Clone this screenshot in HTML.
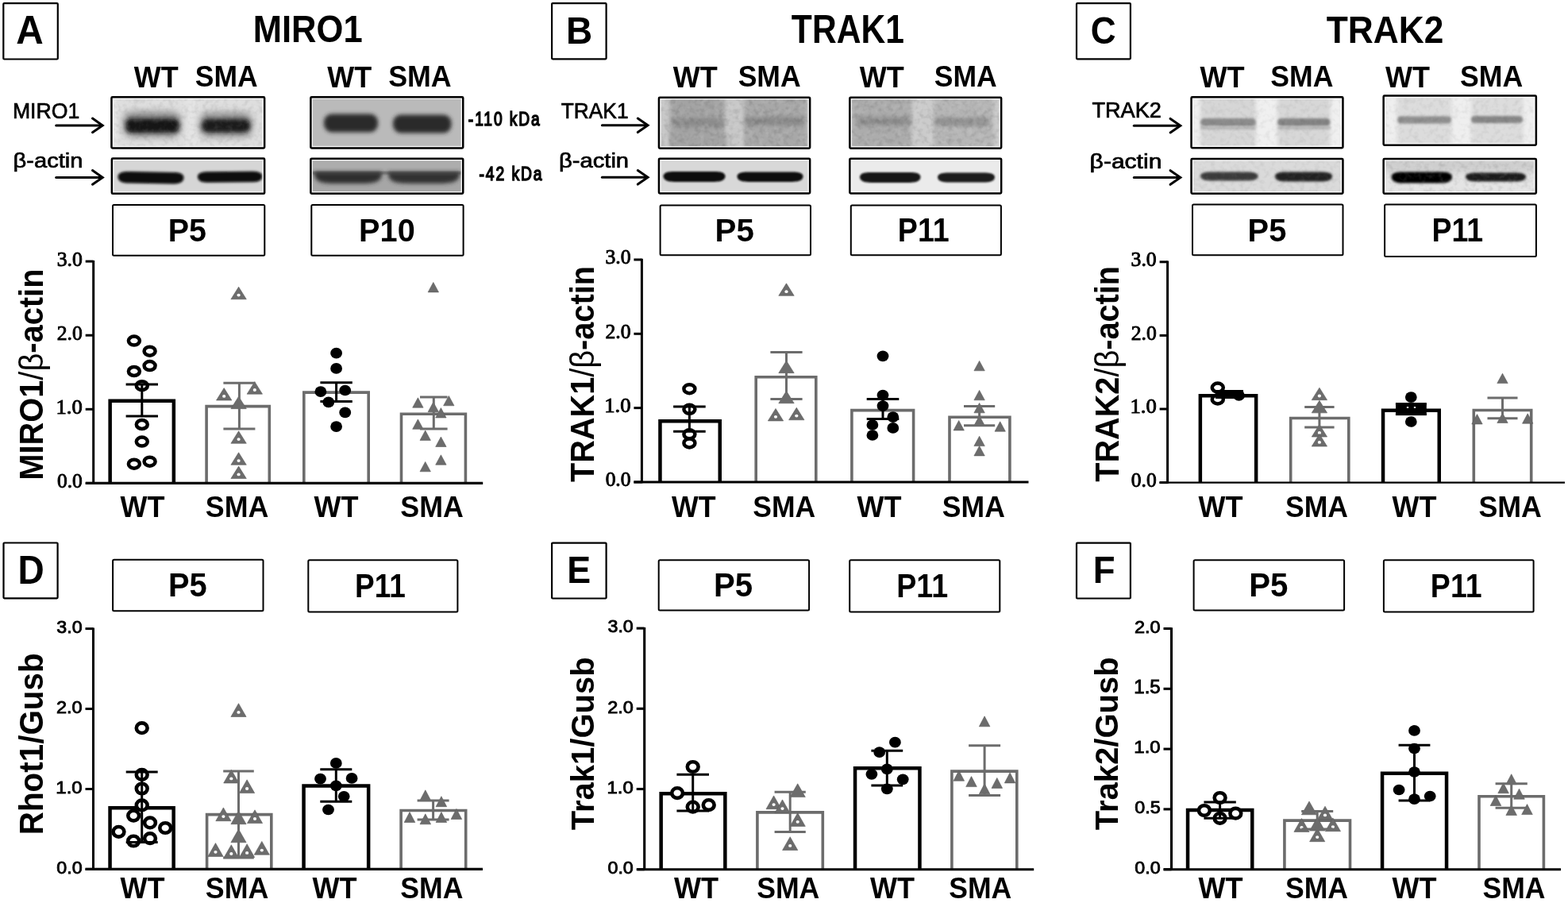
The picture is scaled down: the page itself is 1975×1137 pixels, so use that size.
<!DOCTYPE html>
<html><head><meta charset="utf-8"><title>Figure</title>
<style>html,body{margin:0;padding:0;background:#fff;overflow:hidden;}svg{display:block;}</style>
</head><body>
<svg width="1975" height="1137" viewBox="0 0 1975 1137">
<rect x="0" y="0" width="1975" height="1137" fill="#fff"/>
<rect x="4.30" y="4.10" width="68.50" height="70.40" rx="1.0" fill="none" stroke="#000" stroke-width="2.20"/>
<text transform="translate(20.31 55.20) scale(0.9629 1)" style="font-family:'Liberation Sans',Arial,sans-serif;font-weight:bold;font-size:49.60px" fill="#000">A</text>
<rect x="695.10" y="4.10" width="68.50" height="70.20" rx="1.0" fill="none" stroke="#000" stroke-width="2.20"/>
<text transform="translate(713.00 55.20) scale(0.9364 1)" style="font-family:'Liberation Sans',Arial,sans-serif;font-weight:bold;font-size:49.02px" fill="#000">B</text>
<rect x="1356.00" y="4.10" width="67.90" height="70.20" rx="1.0" fill="none" stroke="#000" stroke-width="2.20"/>
<text transform="translate(1373.64 55.12) scale(0.9101 1)" style="font-family:'Liberation Sans',Arial,sans-serif;font-weight:bold;font-size:48.48px" fill="#000">C</text>
<rect x="4.50" y="683.50" width="68.10" height="69.80" rx="1.0" fill="none" stroke="#000" stroke-width="2.20"/>
<text transform="translate(22.39 734.60) scale(0.9393 1)" style="font-family:'Liberation Sans',Arial,sans-serif;font-weight:bold;font-size:49.02px" fill="#000">D</text>
<rect x="695.10" y="683.60" width="68.50" height="69.90" rx="1.0" fill="none" stroke="#000" stroke-width="2.20"/>
<text transform="translate(714.37 734.40) scale(0.9198 1)" style="font-family:'Liberation Sans',Arial,sans-serif;font-weight:bold;font-size:48.73px" fill="#000">E</text>
<rect x="1356.00" y="683.60" width="67.90" height="69.90" rx="1.0" fill="none" stroke="#000" stroke-width="2.20"/>
<text transform="translate(1376.83 734.40) scale(0.9341 1)" style="font-family:'Liberation Sans',Arial,sans-serif;font-weight:bold;font-size:48.73px" fill="#000">F</text>
<text transform="translate(318.76 53.12) scale(0.9116 1)" style="font-family:'Liberation Sans',Arial,sans-serif;font-weight:bold;font-size:47.77px" fill="#000">MIRO1</text>
<text transform="translate(996.87 53.60) scale(0.8667 1)" style="font-family:'Liberation Sans',Arial,sans-serif;font-weight:bold;font-size:49.16px" fill="#000">TRAK1</text>
<text transform="translate(1670.76 53.60) scale(0.9146 1)" style="font-family:'Liberation Sans',Arial,sans-serif;font-weight:bold;font-size:48.46px" fill="#000">TRAK2</text>
<text transform="translate(168.70 109.50) scale(0.9590 1)" style="font-family:'Liberation Sans',Arial,sans-serif;font-weight:bold;font-size:37.53px" fill="#000">WT</text>
<text transform="translate(245.74 109.43) scale(0.9507 1)" style="font-family:'Liberation Sans',Arial,sans-serif;font-weight:bold;font-size:37.31px" fill="#000">SMA</text>
<text transform="translate(412.30 109.50) scale(0.9590 1)" style="font-family:'Liberation Sans',Arial,sans-serif;font-weight:bold;font-size:37.53px" fill="#000">WT</text>
<text transform="translate(489.13 109.43) scale(0.9593 1)" style="font-family:'Liberation Sans',Arial,sans-serif;font-weight:bold;font-size:37.31px" fill="#000">SMA</text>
<text transform="translate(847.70 109.50) scale(0.9607 1)" style="font-family:'Liberation Sans',Arial,sans-serif;font-weight:bold;font-size:37.53px" fill="#000">WT</text>
<text transform="translate(929.63 109.43) scale(0.9531 1)" style="font-family:'Liberation Sans',Arial,sans-serif;font-weight:bold;font-size:37.31px" fill="#000">SMA</text>
<text transform="translate(1082.70 109.50) scale(0.9607 1)" style="font-family:'Liberation Sans',Arial,sans-serif;font-weight:bold;font-size:37.53px" fill="#000">WT</text>
<text transform="translate(1176.73 109.43) scale(0.9531 1)" style="font-family:'Liberation Sans',Arial,sans-serif;font-weight:bold;font-size:37.31px" fill="#000">SMA</text>
<text transform="translate(1511.40 109.50) scale(0.9641 1)" style="font-family:'Liberation Sans',Arial,sans-serif;font-weight:bold;font-size:37.53px" fill="#000">WT</text>
<text transform="translate(1600.33 109.43) scale(0.9544 1)" style="font-family:'Liberation Sans',Arial,sans-serif;font-weight:bold;font-size:37.31px" fill="#000">SMA</text>
<text transform="translate(1745.00 109.50) scale(0.9590 1)" style="font-family:'Liberation Sans',Arial,sans-serif;font-weight:bold;font-size:37.53px" fill="#000">WT</text>
<text transform="translate(1839.03 109.43) scale(0.9556 1)" style="font-family:'Liberation Sans',Arial,sans-serif;font-weight:bold;font-size:37.31px" fill="#000">SMA</text>
<rect x="142.00" y="257.90" width="191.30" height="63.80" rx="1.5" fill="none" stroke="#000" stroke-width="2.00"/>
<text transform="translate(211.74 303.59) scale(0.9659 1)" style="font-family:'Liberation Sans',Arial,sans-serif;font-weight:bold;font-size:40.86px" fill="#000">P5</text>
<rect x="392.30" y="257.90" width="191.30" height="63.80" rx="1.5" fill="none" stroke="#000" stroke-width="2.00"/>
<text transform="translate(452.12 303.79) scale(0.9719 1)" style="font-family:'Liberation Sans',Arial,sans-serif;font-weight:bold;font-size:40.85px" fill="#000">P10</text>
<rect x="831.60" y="258.40" width="189.40" height="62.90" rx="1.5" fill="none" stroke="#000" stroke-width="2.00"/>
<text transform="translate(900.58 303.59) scale(0.9786 1)" style="font-family:'Liberation Sans',Arial,sans-serif;font-weight:bold;font-size:41.15px" fill="#000">P5</text>
<rect x="1071.80" y="258.40" width="189.10" height="62.90" rx="1.5" fill="none" stroke="#000" stroke-width="2.00"/>
<text transform="translate(1130.86 304.00) scale(0.9023 1)" style="font-family:'Liberation Sans',Arial,sans-serif;font-weight:bold;font-size:41.75px" fill="#000">P11</text>
<rect x="1502.00" y="257.60" width="189.50" height="63.70" rx="1.5" fill="none" stroke="#000" stroke-width="2.00"/>
<text transform="translate(1571.61 303.59) scale(0.9678 1)" style="font-family:'Liberation Sans',Arial,sans-serif;font-weight:bold;font-size:41.15px" fill="#000">P5</text>
<rect x="1744.10" y="257.60" width="190.80" height="65.40" rx="1.5" fill="none" stroke="#000" stroke-width="2.00"/>
<text transform="translate(1803.47 304.00) scale(0.8993 1)" style="font-family:'Liberation Sans',Arial,sans-serif;font-weight:bold;font-size:41.75px" fill="#000">P11</text>
<rect x="142.10" y="704.80" width="189.40" height="64.50" rx="1.5" fill="none" stroke="#000" stroke-width="2.00"/>
<text transform="translate(211.91 751.08) scale(0.9534 1)" style="font-family:'Liberation Sans',Arial,sans-serif;font-weight:bold;font-size:41.86px" fill="#000">P5</text>
<rect x="388.30" y="705.30" width="188.10" height="65.10" rx="1.5" fill="none" stroke="#000" stroke-width="2.00"/>
<text transform="translate(447.10 751.50) scale(0.8723 1)" style="font-family:'Liberation Sans',Arial,sans-serif;font-weight:bold;font-size:42.47px" fill="#000">P11</text>
<rect x="829.70" y="705.30" width="189.40" height="63.10" rx="1.5" fill="none" stroke="#000" stroke-width="2.00"/>
<text transform="translate(898.99 751.08) scale(0.9597 1)" style="font-family:'Liberation Sans',Arial,sans-serif;font-weight:bold;font-size:41.86px" fill="#000">P5</text>
<rect x="1070.20" y="705.30" width="189.10" height="65.10" rx="1.5" fill="none" stroke="#000" stroke-width="2.00"/>
<text transform="translate(1129.26 751.50) scale(0.8868 1)" style="font-family:'Liberation Sans',Arial,sans-serif;font-weight:bold;font-size:42.47px" fill="#000">P11</text>
<rect x="1503.60" y="705.30" width="189.50" height="63.10" rx="1.5" fill="none" stroke="#000" stroke-width="2.00"/>
<text transform="translate(1573.18 751.08) scale(0.9618 1)" style="font-family:'Liberation Sans',Arial,sans-serif;font-weight:bold;font-size:41.86px" fill="#000">P5</text>
<rect x="1742.90" y="705.30" width="188.70" height="65.10" rx="1.5" fill="none" stroke="#000" stroke-width="2.00"/>
<text transform="translate(1801.87 751.50) scale(0.8839 1)" style="font-family:'Liberation Sans',Arial,sans-serif;font-weight:bold;font-size:42.47px" fill="#000">P11</text>
<text transform="translate(15.90 149.21) scale(0.9336 1)" style="font-family:'Liberation Sans',Arial,sans-serif;font-weight:normal;font-size:28.55px" fill="#000" stroke="#000" stroke-width="0.7">MIRO1</text>
<text transform="translate(16.56 211.13) scale(1.1027 1)" style="font-family:'Liberation Sans',Arial,sans-serif;font-weight:normal;font-size:26.38px" fill="#000" stroke="#000" stroke-width="0.7">β-actin</text>
<line x1="70.70" y1="157.90" x2="127.90" y2="157.90" stroke="#000" stroke-width="3.00" stroke-linecap="round"/>
<polyline points="116.5,149.1 129.2,157.9 116.5,166.7" fill="none" stroke="#000" stroke-width="3.0" stroke-linecap="round" stroke-linejoin="miter"/>
<line x1="70.70" y1="223.40" x2="127.90" y2="223.40" stroke="#000" stroke-width="3.00" stroke-linecap="round"/>
<polyline points="116.5,214.6 129.2,223.4 116.5,232.2" fill="none" stroke="#000" stroke-width="3.0" stroke-linecap="round" stroke-linejoin="miter"/>
<text transform="translate(706.81 149.40) scale(0.9465 1)" style="font-family:'Liberation Sans',Arial,sans-serif;font-weight:normal;font-size:27.78px" fill="#000" stroke="#000" stroke-width="0.7">TRAK1</text>
<text transform="translate(703.96 211.49) scale(1.1203 1)" style="font-family:'Liberation Sans',Arial,sans-serif;font-weight:normal;font-size:26.06px" fill="#000" stroke="#000" stroke-width="0.7">β-actin</text>
<line x1="758.40" y1="157.80" x2="814.70" y2="157.80" stroke="#000" stroke-width="3.00" stroke-linecap="round"/>
<polyline points="803.3,149.0 816.0,157.8 803.3,166.6" fill="none" stroke="#000" stroke-width="3.0" stroke-linecap="round" stroke-linejoin="miter"/>
<line x1="758.40" y1="223.30" x2="814.70" y2="223.30" stroke="#000" stroke-width="3.00" stroke-linecap="round"/>
<polyline points="803.3,214.5 816.0,223.3 803.3,232.1" fill="none" stroke="#000" stroke-width="3.0" stroke-linecap="round" stroke-linejoin="miter"/>
<text transform="translate(1375.39 147.90) scale(0.9809 1)" style="font-family:'Liberation Sans',Arial,sans-serif;font-weight:normal;font-size:27.67px" fill="#000" stroke="#000" stroke-width="0.7">TRAK2</text>
<text transform="translate(1372.60 212.02) scale(1.1583 1)" style="font-family:'Liberation Sans',Arial,sans-serif;font-weight:normal;font-size:25.95px" fill="#000" stroke="#000" stroke-width="0.7">β-actin</text>
<line x1="1428.30" y1="158.20" x2="1485.50" y2="158.20" stroke="#000" stroke-width="3.00" stroke-linecap="round"/>
<polyline points="1474.1,149.4 1486.8,158.2 1474.1,167.0" fill="none" stroke="#000" stroke-width="3.0" stroke-linecap="round" stroke-linejoin="miter"/>
<line x1="1428.30" y1="223.50" x2="1485.50" y2="223.50" stroke="#000" stroke-width="3.00" stroke-linecap="round"/>
<polyline points="1474.1,214.7 1486.8,223.5 1474.1,232.3" fill="none" stroke="#000" stroke-width="3.0" stroke-linecap="round" stroke-linejoin="miter"/>
<text transform="translate(589.84 157.77) scale(0.8308 1)" style="font-family:'Liberation Sans',Arial,sans-serif;font-weight:normal;font-size:23.13px;letter-spacing:2.313px" fill="#000" stroke="#000" stroke-width="1.5">-110 kDa</text>
<text transform="translate(603.43 226.67) scale(0.8295 1)" style="font-family:'Liberation Sans',Arial,sans-serif;font-weight:normal;font-size:23.27px;letter-spacing:2.327px" fill="#000" stroke="#000" stroke-width="1.5">-42 kDa</text>
<path d="M138.65 608.40 V504.75 H218.85 V608.40" fill="none" stroke="#000" stroke-width="4.50" stroke-linejoin="miter"/>
<path d="M260.10 608.40 V511.60 H339.30 V608.40" fill="none" stroke="#6c6c6c" stroke-width="3.60" stroke-linejoin="miter"/>
<path d="M382.80 608.40 V494.10 H464.20 V608.40" fill="none" stroke="#6c6c6c" stroke-width="3.60" stroke-linejoin="miter"/>
<path d="M505.50 608.40 V521.20 H586.40 V608.40" fill="none" stroke="#6c6c6c" stroke-width="3.60" stroke-linejoin="miter"/>
<ellipse cx="168.90" cy="429.10" rx="7.00" ry="5.50" fill="#fff" stroke="#000" stroke-width="4.50"/>
<ellipse cx="188.60" cy="442.20" rx="7.00" ry="5.50" fill="#fff" stroke="#000" stroke-width="4.50"/>
<ellipse cx="188.60" cy="460.60" rx="7.00" ry="5.50" fill="#fff" stroke="#000" stroke-width="4.50"/>
<ellipse cx="168.90" cy="467.50" rx="7.00" ry="5.50" fill="#fff" stroke="#000" stroke-width="4.50"/>
<ellipse cx="178.80" cy="485.70" rx="7.00" ry="5.50" fill="#fff" stroke="#000" stroke-width="4.50"/>
<ellipse cx="178.80" cy="534.50" rx="7.00" ry="5.50" fill="#fff" stroke="#000" stroke-width="4.50"/>
<ellipse cx="178.80" cy="556.10" rx="7.00" ry="5.50" fill="#fff" stroke="#000" stroke-width="4.50"/>
<ellipse cx="168.90" cy="584.20" rx="7.00" ry="5.50" fill="#fff" stroke="#000" stroke-width="4.50"/>
<ellipse cx="188.60" cy="581.20" rx="7.00" ry="5.50" fill="#fff" stroke="#000" stroke-width="4.50"/>
<polygon points="290.90,376.75 310.30,376.75 300.60,361.25" fill="#6c6c6c" stroke="#5a5a5a" stroke-width="0.6" stroke-linejoin="round"/>
<ellipse cx="300.60" cy="371.58" rx="2.1" ry="1.9" fill="#fff"/>
<polygon points="272.50,504.05 291.90,504.05 282.20,488.55" fill="#6c6c6c" stroke="#5a5a5a" stroke-width="0.6" stroke-linejoin="round"/>
<ellipse cx="282.20" cy="498.88" rx="2.1" ry="1.9" fill="#fff"/>
<polygon points="311.10,496.15 330.50,496.15 320.80,480.65" fill="#6c6c6c" stroke="#5a5a5a" stroke-width="0.6" stroke-linejoin="round"/>
<ellipse cx="320.80" cy="490.98" rx="2.1" ry="1.9" fill="#fff"/>
<polygon points="290.90,558.25 310.30,558.25 300.60,542.75" fill="#6c6c6c" stroke="#5a5a5a" stroke-width="0.6" stroke-linejoin="round"/>
<ellipse cx="300.60" cy="553.08" rx="2.1" ry="1.9" fill="#fff"/>
<polygon points="290.90,585.25 310.30,585.25 300.60,569.75" fill="#6c6c6c" stroke="#5a5a5a" stroke-width="0.6" stroke-linejoin="round"/>
<ellipse cx="300.60" cy="580.08" rx="2.1" ry="1.9" fill="#fff"/>
<polygon points="290.90,602.55 310.30,602.55 300.60,587.05" fill="#6c6c6c" stroke="#5a5a5a" stroke-width="0.6" stroke-linejoin="round"/>
<ellipse cx="300.60" cy="597.38" rx="2.1" ry="1.9" fill="#fff"/>
<polygon points="290.90,514.65 310.30,514.65 300.60,499.15" fill="#6c6c6c" stroke="#5a5a5a" stroke-width="0.6" stroke-linejoin="round"/>
<ellipse cx="423.60" cy="444.70" rx="7.4" ry="6.85" fill="#000"/>
<ellipse cx="423.60" cy="463.90" rx="7.4" ry="6.85" fill="#000"/>
<ellipse cx="403.90" cy="493.20" rx="7.4" ry="6.85" fill="#000"/>
<ellipse cx="434.70" cy="491.50" rx="7.4" ry="6.85" fill="#000"/>
<ellipse cx="413.80" cy="506.30" rx="7.4" ry="6.85" fill="#000"/>
<ellipse cx="434.70" cy="519.40" rx="7.4" ry="6.85" fill="#000"/>
<ellipse cx="423.60" cy="537.10" rx="7.4" ry="6.85" fill="#000"/>
<polygon points="539.10,367.90 552.50,367.90 545.80,355.50" fill="#6c6c6c" stroke="#5a5a5a" stroke-width="0.6" stroke-linejoin="round"/>
<polygon points="519.70,513.20 533.10,513.20 526.40,500.80" fill="#6c6c6c" stroke="#5a5a5a" stroke-width="0.6" stroke-linejoin="round"/>
<polygon points="558.60,510.80 572.00,510.80 565.30,498.40" fill="#6c6c6c" stroke="#5a5a5a" stroke-width="0.6" stroke-linejoin="round"/>
<polygon points="539.10,518.70 552.50,518.70 545.80,506.30" fill="#6c6c6c" stroke="#5a5a5a" stroke-width="0.6" stroke-linejoin="round"/>
<polygon points="548.70,526.00 562.10,526.00 555.40,513.60" fill="#6c6c6c" stroke="#5a5a5a" stroke-width="0.6" stroke-linejoin="round"/>
<polygon points="519.70,540.30 533.10,540.30 526.40,527.90" fill="#6c6c6c" stroke="#5a5a5a" stroke-width="0.6" stroke-linejoin="round"/>
<polygon points="529.00,554.40 542.40,554.40 535.70,542.00" fill="#6c6c6c" stroke="#5a5a5a" stroke-width="0.6" stroke-linejoin="round"/>
<polygon points="548.70,562.50 562.10,562.50 555.40,550.10" fill="#6c6c6c" stroke="#5a5a5a" stroke-width="0.6" stroke-linejoin="round"/>
<polygon points="548.70,585.20 562.10,585.20 555.40,572.80" fill="#6c6c6c" stroke="#5a5a5a" stroke-width="0.6" stroke-linejoin="round"/>
<polygon points="529.00,593.80 542.40,593.80 535.70,581.40" fill="#6c6c6c" stroke="#5a5a5a" stroke-width="0.6" stroke-linejoin="round"/>
<line x1="178.80" y1="484.00" x2="178.80" y2="524.10" stroke="#000" stroke-width="3.00" stroke-linecap="butt"/>
<line x1="158.60" y1="484.00" x2="199.00" y2="484.00" stroke="#000" stroke-width="3.00" stroke-linecap="butt"/>
<line x1="158.60" y1="524.10" x2="199.00" y2="524.10" stroke="#000" stroke-width="3.00" stroke-linecap="butt"/>
<line x1="301.40" y1="482.30" x2="301.40" y2="539.90" stroke="#6c6c6c" stroke-width="3.00" stroke-linecap="butt"/>
<line x1="281.40" y1="482.30" x2="321.40" y2="482.30" stroke="#6c6c6c" stroke-width="3.00" stroke-linecap="butt"/>
<line x1="281.40" y1="539.90" x2="321.40" y2="539.90" stroke="#6c6c6c" stroke-width="3.00" stroke-linecap="butt"/>
<line x1="423.60" y1="481.70" x2="423.60" y2="505.60" stroke="#000" stroke-width="3.00" stroke-linecap="butt"/>
<line x1="403.40" y1="481.70" x2="443.80" y2="481.70" stroke="#000" stroke-width="3.00" stroke-linecap="butt"/>
<line x1="403.40" y1="505.60" x2="443.80" y2="505.60" stroke="#000" stroke-width="3.00" stroke-linecap="butt"/>
<line x1="546.30" y1="500.10" x2="546.30" y2="540.00" stroke="#6c6c6c" stroke-width="3.00" stroke-linecap="butt"/>
<line x1="529.00" y1="500.10" x2="563.60" y2="500.10" stroke="#6c6c6c" stroke-width="3.00" stroke-linecap="butt"/>
<line x1="529.00" y1="540.00" x2="563.60" y2="540.00" stroke="#6c6c6c" stroke-width="3.00" stroke-linecap="butt"/>
<line x1="117.70" y1="327.90" x2="117.70" y2="609.60" stroke="#000" stroke-width="3.00" stroke-linecap="butt"/>
<line x1="107.80" y1="608.40" x2="608.20" y2="608.40" stroke="#000" stroke-width="3.20" stroke-linecap="butt"/>
<line x1="107.70" y1="608.40" x2="117.70" y2="608.40" stroke="#000" stroke-width="3.00" stroke-linecap="butt"/>
<text transform="translate(71.94 613.88) scale(1.0441 1)" style="font-family:'Liberation Serif','Times New Roman',serif;font-weight:normal;font-size:24.41px" fill="#000" stroke="#000" stroke-width="0.9">0.0</text>
<line x1="107.70" y1="515.30" x2="117.70" y2="515.30" stroke="#000" stroke-width="3.00" stroke-linecap="butt"/>
<text transform="translate(70.57 520.78) scale(1.0905 1)" style="font-family:'Liberation Serif','Times New Roman',serif;font-weight:normal;font-size:24.41px" fill="#000" stroke="#000" stroke-width="0.9">1.0</text>
<line x1="107.70" y1="422.20" x2="117.70" y2="422.20" stroke="#000" stroke-width="3.00" stroke-linecap="butt"/>
<text transform="translate(71.81 427.68) scale(1.0486 1)" style="font-family:'Liberation Serif','Times New Roman',serif;font-weight:normal;font-size:24.41px" fill="#000" stroke="#000" stroke-width="0.9">2.0</text>
<line x1="107.70" y1="329.10" x2="117.70" y2="329.10" stroke="#000" stroke-width="3.00" stroke-linecap="butt"/>
<text transform="translate(71.68 334.58) scale(1.0531 1)" style="font-family:'Liberation Serif','Times New Roman',serif;font-weight:normal;font-size:24.41px" fill="#000" stroke="#000" stroke-width="0.9">3.0</text>
<text transform="translate(54.00 604.69) rotate(-90) scale(0.9446 1)" style="font-family:'Liberation Sans',Arial,sans-serif;font-weight:bold;font-size:42.15px" fill="#000">MIRO1<tspan style="font-family:'Liberation Sans',Arial,sans-serif;font-weight:normal">/β</tspan>-actin</text>
<text transform="translate(151.60 650.60) scale(0.9720 1)" style="font-family:'Liberation Sans',Arial,sans-serif;font-weight:bold;font-size:37.09px" fill="#000">WT</text>
<text transform="translate(258.83 650.53) scale(0.9704 1)" style="font-family:'Liberation Sans',Arial,sans-serif;font-weight:bold;font-size:36.89px" fill="#000">SMA</text>
<text transform="translate(395.60 650.60) scale(0.9720 1)" style="font-family:'Liberation Sans',Arial,sans-serif;font-weight:bold;font-size:37.09px" fill="#000">WT</text>
<text transform="translate(504.33 650.53) scale(0.9704 1)" style="font-family:'Liberation Sans',Arial,sans-serif;font-weight:bold;font-size:36.89px" fill="#000">SMA</text>
<path d="M831.45 607.00 V530.15 H906.75 V607.00" fill="none" stroke="#000" stroke-width="4.50" stroke-linejoin="miter"/>
<path d="M952.20 607.00 V474.80 H1027.80 V607.00" fill="none" stroke="#6c6c6c" stroke-width="3.60" stroke-linejoin="miter"/>
<path d="M1072.90 607.00 V516.60 H1150.60 V607.00" fill="none" stroke="#6c6c6c" stroke-width="3.60" stroke-linejoin="miter"/>
<path d="M1196.00 607.00 V525.20 H1271.90 V607.00" fill="none" stroke="#6c6c6c" stroke-width="3.60" stroke-linejoin="miter"/>
<ellipse cx="868.40" cy="489.70" rx="7.00" ry="5.50" fill="#fff" stroke="#000" stroke-width="4.50"/>
<ellipse cx="868.40" cy="515.30" rx="7.00" ry="5.50" fill="#fff" stroke="#000" stroke-width="4.50"/>
<ellipse cx="868.40" cy="546.80" rx="7.00" ry="5.50" fill="#fff" stroke="#000" stroke-width="4.50"/>
<ellipse cx="868.40" cy="557.90" rx="7.00" ry="5.50" fill="#fff" stroke="#000" stroke-width="4.50"/>
<polygon points="980.80,372.35 1000.20,372.35 990.50,356.85" fill="#6c6c6c" stroke="#5a5a5a" stroke-width="0.6" stroke-linejoin="round"/>
<ellipse cx="990.50" cy="367.18" rx="2.1" ry="1.9" fill="#fff"/>
<polygon points="967.30,529.95 986.70,529.95 977.00,514.45" fill="#6c6c6c" stroke="#5a5a5a" stroke-width="0.6" stroke-linejoin="round"/>
<ellipse cx="977.00" cy="524.78" rx="2.1" ry="1.9" fill="#fff"/>
<polygon points="993.60,528.75 1013.00,528.75 1003.30,513.25" fill="#6c6c6c" stroke="#5a5a5a" stroke-width="0.6" stroke-linejoin="round"/>
<ellipse cx="1003.30" cy="523.58" rx="2.1" ry="1.9" fill="#fff"/>
<polygon points="980.80,469.65 1000.20,469.65 990.50,454.15" fill="#6c6c6c" stroke="#5a5a5a" stroke-width="0.6" stroke-linejoin="round"/>
<polygon points="980.80,507.75 1000.20,507.75 990.50,492.25" fill="#6c6c6c" stroke="#5a5a5a" stroke-width="0.6" stroke-linejoin="round"/>
<ellipse cx="1112.00" cy="448.30" rx="7.4" ry="6.85" fill="#000"/>
<ellipse cx="1112.00" cy="497.60" rx="7.4" ry="6.85" fill="#000"/>
<ellipse cx="1112.00" cy="511.10" rx="7.4" ry="6.85" fill="#000"/>
<ellipse cx="1124.80" cy="525.10" rx="7.4" ry="6.85" fill="#000"/>
<ellipse cx="1098.90" cy="535.00" rx="7.4" ry="6.85" fill="#000"/>
<ellipse cx="1124.80" cy="538.90" rx="7.4" ry="6.85" fill="#000"/>
<ellipse cx="1098.90" cy="548.00" rx="7.4" ry="6.85" fill="#000"/>
<polygon points="1226.90,466.80 1240.30,466.80 1233.60,454.40" fill="#6c6c6c" stroke="#5a5a5a" stroke-width="0.6" stroke-linejoin="round"/>
<polygon points="1226.90,503.80 1240.30,503.80 1233.60,491.40" fill="#6c6c6c" stroke="#5a5a5a" stroke-width="0.6" stroke-linejoin="round"/>
<polygon points="1226.90,519.80 1240.30,519.80 1233.60,507.40" fill="#6c6c6c" stroke="#5a5a5a" stroke-width="0.6" stroke-linejoin="round"/>
<polygon points="1226.90,535.80 1240.30,535.80 1233.60,523.40" fill="#6c6c6c" stroke="#5a5a5a" stroke-width="0.6" stroke-linejoin="round"/>
<polygon points="1201.00,541.90 1214.40,541.90 1207.70,529.50" fill="#6c6c6c" stroke="#5a5a5a" stroke-width="0.6" stroke-linejoin="round"/>
<polygon points="1253.00,543.20 1266.40,543.20 1259.70,530.80" fill="#6c6c6c" stroke="#5a5a5a" stroke-width="0.6" stroke-linejoin="round"/>
<polygon points="1226.90,561.60 1240.30,561.60 1233.60,549.20" fill="#6c6c6c" stroke="#5a5a5a" stroke-width="0.6" stroke-linejoin="round"/>
<polygon points="1226.90,573.90 1240.30,573.90 1233.60,561.50" fill="#6c6c6c" stroke="#5a5a5a" stroke-width="0.6" stroke-linejoin="round"/>
<line x1="868.40" y1="511.90" x2="868.40" y2="543.20" stroke="#000" stroke-width="3.00" stroke-linecap="butt"/>
<line x1="848.10" y1="511.90" x2="888.70" y2="511.90" stroke="#000" stroke-width="3.00" stroke-linecap="butt"/>
<line x1="848.10" y1="543.20" x2="888.70" y2="543.20" stroke="#000" stroke-width="3.00" stroke-linecap="butt"/>
<line x1="990.50" y1="443.40" x2="990.50" y2="502.50" stroke="#6c6c6c" stroke-width="3.00" stroke-linecap="butt"/>
<line x1="970.40" y1="443.40" x2="1010.60" y2="443.40" stroke="#6c6c6c" stroke-width="3.00" stroke-linecap="butt"/>
<line x1="970.40" y1="502.50" x2="1010.60" y2="502.50" stroke="#6c6c6c" stroke-width="3.00" stroke-linecap="butt"/>
<line x1="1112.00" y1="502.50" x2="1112.00" y2="527.60" stroke="#000" stroke-width="3.00" stroke-linecap="butt"/>
<line x1="1091.70" y1="502.50" x2="1132.30" y2="502.50" stroke="#000" stroke-width="3.00" stroke-linecap="butt"/>
<line x1="1091.70" y1="527.60" x2="1132.30" y2="527.60" stroke="#000" stroke-width="3.00" stroke-linecap="butt"/>
<line x1="1233.60" y1="511.60" x2="1233.60" y2="535.70" stroke="#6c6c6c" stroke-width="3.00" stroke-linecap="butt"/>
<line x1="1214.00" y1="511.60" x2="1253.20" y2="511.60" stroke="#6c6c6c" stroke-width="3.00" stroke-linecap="butt"/>
<line x1="1214.00" y1="535.70" x2="1253.20" y2="535.70" stroke="#6c6c6c" stroke-width="3.00" stroke-linecap="butt"/>
<line x1="808.40" y1="325.75" x2="808.40" y2="608.20" stroke="#000" stroke-width="3.00" stroke-linecap="butt"/>
<line x1="798.40" y1="607.00" x2="1295.50" y2="607.00" stroke="#000" stroke-width="3.10" stroke-linecap="butt"/>
<line x1="798.40" y1="607.00" x2="808.40" y2="607.00" stroke="#000" stroke-width="3.00" stroke-linecap="butt"/>
<text transform="translate(762.64 612.48) scale(1.0441 1)" style="font-family:'Liberation Serif','Times New Roman',serif;font-weight:normal;font-size:24.41px" fill="#000" stroke="#000" stroke-width="0.9">0.0</text>
<line x1="798.40" y1="513.65" x2="808.40" y2="513.65" stroke="#000" stroke-width="3.00" stroke-linecap="butt"/>
<text transform="translate(761.27 519.13) scale(1.0905 1)" style="font-family:'Liberation Serif','Times New Roman',serif;font-weight:normal;font-size:24.41px" fill="#000" stroke="#000" stroke-width="0.9">1.0</text>
<line x1="798.40" y1="420.30" x2="808.40" y2="420.30" stroke="#000" stroke-width="3.00" stroke-linecap="butt"/>
<text transform="translate(762.51 425.78) scale(1.0486 1)" style="font-family:'Liberation Serif','Times New Roman',serif;font-weight:normal;font-size:24.41px" fill="#000" stroke="#000" stroke-width="0.9">2.0</text>
<line x1="798.40" y1="326.95" x2="808.40" y2="326.95" stroke="#000" stroke-width="3.00" stroke-linecap="butt"/>
<text transform="translate(762.38 332.43) scale(1.0531 1)" style="font-family:'Liberation Serif','Times New Roman',serif;font-weight:normal;font-size:24.41px" fill="#000" stroke="#000" stroke-width="0.9">3.0</text>
<text transform="translate(748.00 607.10) rotate(-90) scale(0.9485 1)" style="font-family:'Liberation Sans',Arial,sans-serif;font-weight:bold;font-size:41.86px" fill="#000">TRAK1<tspan style="font-family:'Liberation Sans',Arial,sans-serif;font-weight:normal">/β</tspan>-actin</text>
<text transform="translate(846.10 650.60) scale(0.9633 1)" style="font-family:'Liberation Sans',Arial,sans-serif;font-weight:bold;font-size:37.09px" fill="#000">WT</text>
<text transform="translate(948.33 650.53) scale(0.9628 1)" style="font-family:'Liberation Sans',Arial,sans-serif;font-weight:bold;font-size:36.89px" fill="#000">SMA</text>
<text transform="translate(1079.60 650.60) scale(0.9720 1)" style="font-family:'Liberation Sans',Arial,sans-serif;font-weight:bold;font-size:37.09px" fill="#000">WT</text>
<text transform="translate(1186.83 650.53) scale(0.9641 1)" style="font-family:'Liberation Sans',Arial,sans-serif;font-weight:bold;font-size:36.89px" fill="#000">SMA</text>
<path d="M1511.85 607.60 V498.15 H1582.15 V607.60" fill="none" stroke="#000" stroke-width="4.50" stroke-linejoin="miter"/>
<path d="M1625.70 607.60 V526.50 H1698.80 V607.60" fill="none" stroke="#6c6c6c" stroke-width="3.60" stroke-linejoin="miter"/>
<path d="M1742.05 607.60 V516.65 H1812.75 V607.60" fill="none" stroke="#000" stroke-width="4.50" stroke-linejoin="miter"/>
<path d="M1856.30 607.60 V516.50 H1928.70 V607.60" fill="none" stroke="#6c6c6c" stroke-width="3.60" stroke-linejoin="miter"/>
<ellipse cx="1533.80" cy="488.10" rx="7.00" ry="5.50" fill="#fff" stroke="#000" stroke-width="4.50"/>
<ellipse cx="1533.80" cy="502.90" rx="7.00" ry="5.50" fill="#fff" stroke="#000" stroke-width="4.50"/>
<ellipse cx="1560.50" cy="498.00" rx="7.4" ry="6.85" fill="#000"/>
<polygon points="1652.20,503.65 1671.60,503.65 1661.90,488.15" fill="#6c6c6c" stroke="#5a5a5a" stroke-width="0.6" stroke-linejoin="round"/>
<ellipse cx="1661.90" cy="498.48" rx="2.1" ry="1.9" fill="#fff"/>
<polygon points="1652.20,550.05 1671.60,550.05 1661.90,534.55" fill="#6c6c6c" stroke="#5a5a5a" stroke-width="0.6" stroke-linejoin="round"/>
<ellipse cx="1661.90" cy="544.88" rx="2.1" ry="1.9" fill="#fff"/>
<polygon points="1652.20,562.05 1671.60,562.05 1661.90,546.55" fill="#6c6c6c" stroke="#5a5a5a" stroke-width="0.6" stroke-linejoin="round"/>
<ellipse cx="1661.90" cy="556.88" rx="2.1" ry="1.9" fill="#fff"/>
<polygon points="1652.20,519.85 1671.60,519.85 1661.90,504.35" fill="#6c6c6c" stroke="#5a5a5a" stroke-width="0.6" stroke-linejoin="round"/>
<ellipse cx="1777.30" cy="500.10" rx="7.4" ry="6.85" fill="#000"/>
<ellipse cx="1777.30" cy="531.00" rx="7.4" ry="6.85" fill="#000"/>
<ellipse cx="1767.00" cy="515.00" rx="7.4" ry="6.85" fill="#000"/>
<ellipse cx="1787.00" cy="515.00" rx="7.4" ry="6.85" fill="#000"/>
<polygon points="1885.80,482.60 1899.20,482.60 1892.50,470.20" fill="#6c6c6c" stroke="#5a5a5a" stroke-width="0.6" stroke-linejoin="round"/>
<polygon points="1853.80,534.00 1867.20,534.00 1860.50,521.60" fill="#6c6c6c" stroke="#5a5a5a" stroke-width="0.6" stroke-linejoin="round"/>
<polygon points="1917.50,533.20 1930.90,533.20 1924.20,520.80" fill="#6c6c6c" stroke="#5a5a5a" stroke-width="0.6" stroke-linejoin="round"/>
<polygon points="1885.80,532.50 1899.20,532.50 1892.50,520.10" fill="#6c6c6c" stroke="#5a5a5a" stroke-width="0.6" stroke-linejoin="round"/>
<line x1="1548.50" y1="492.50" x2="1548.50" y2="500.50" stroke="#000" stroke-width="3.00" stroke-linecap="butt"/>
<line x1="1531.00" y1="492.50" x2="1566.00" y2="492.50" stroke="#000" stroke-width="3.00" stroke-linecap="butt"/>
<line x1="1531.00" y1="500.50" x2="1566.00" y2="500.50" stroke="#000" stroke-width="3.00" stroke-linecap="butt"/>
<line x1="1661.90" y1="512.40" x2="1661.90" y2="538.10" stroke="#6c6c6c" stroke-width="3.00" stroke-linecap="butt"/>
<line x1="1643.20" y1="512.40" x2="1680.60" y2="512.40" stroke="#6c6c6c" stroke-width="3.00" stroke-linecap="butt"/>
<line x1="1643.20" y1="538.10" x2="1680.60" y2="538.10" stroke="#6c6c6c" stroke-width="3.00" stroke-linecap="butt"/>
<line x1="1777.30" y1="508.80" x2="1777.30" y2="521.60" stroke="#000" stroke-width="3.00" stroke-linecap="butt"/>
<line x1="1757.90" y1="508.80" x2="1796.70" y2="508.80" stroke="#000" stroke-width="3.00" stroke-linecap="butt"/>
<line x1="1757.90" y1="521.60" x2="1796.70" y2="521.60" stroke="#000" stroke-width="3.00" stroke-linecap="butt"/>
<line x1="1892.50" y1="500.90" x2="1892.50" y2="526.70" stroke="#6c6c6c" stroke-width="3.00" stroke-linecap="butt"/>
<line x1="1873.50" y1="500.90" x2="1911.50" y2="500.90" stroke="#6c6c6c" stroke-width="3.00" stroke-linecap="butt"/>
<line x1="1873.50" y1="526.70" x2="1911.50" y2="526.70" stroke="#6c6c6c" stroke-width="3.00" stroke-linecap="butt"/>
<rect x="1531" y="491" width="35" height="11" fill="#000"/>
<rect x="1758" y="507.3" width="38.8" height="15.8" fill="#000"/>
<ellipse cx="1773" cy="513" rx="1.3" ry="1.1" fill="#fff"/>
<ellipse cx="1782" cy="513" rx="1.3" ry="1.1" fill="#fff"/>
<line x1="1470.60" y1="328.60" x2="1470.60" y2="608.80" stroke="#000" stroke-width="3.00" stroke-linecap="butt"/>
<line x1="1460.40" y1="607.60" x2="1971.00" y2="607.60" stroke="#000" stroke-width="2.20" stroke-linecap="butt"/>
<line x1="1460.60" y1="607.60" x2="1470.60" y2="607.60" stroke="#000" stroke-width="3.00" stroke-linecap="butt"/>
<text transform="translate(1424.84 613.08) scale(1.0441 1)" style="font-family:'Liberation Serif','Times New Roman',serif;font-weight:normal;font-size:24.41px" fill="#000" stroke="#000" stroke-width="0.9">0.0</text>
<line x1="1460.60" y1="515.00" x2="1470.60" y2="515.00" stroke="#000" stroke-width="3.00" stroke-linecap="butt"/>
<text transform="translate(1423.47 520.48) scale(1.0905 1)" style="font-family:'Liberation Serif','Times New Roman',serif;font-weight:normal;font-size:24.41px" fill="#000" stroke="#000" stroke-width="0.9">1.0</text>
<line x1="1460.60" y1="422.40" x2="1470.60" y2="422.40" stroke="#000" stroke-width="3.00" stroke-linecap="butt"/>
<text transform="translate(1424.71 427.88) scale(1.0486 1)" style="font-family:'Liberation Serif','Times New Roman',serif;font-weight:normal;font-size:24.41px" fill="#000" stroke="#000" stroke-width="0.9">2.0</text>
<line x1="1460.60" y1="329.80" x2="1470.60" y2="329.80" stroke="#000" stroke-width="3.00" stroke-linecap="butt"/>
<text transform="translate(1424.58 335.28) scale(1.0531 1)" style="font-family:'Liberation Serif','Times New Roman',serif;font-weight:normal;font-size:24.41px" fill="#000" stroke="#000" stroke-width="0.9">3.0</text>
<text transform="translate(1408.50 606.80) rotate(-90) scale(0.9508 1)" style="font-family:'Liberation Sans',Arial,sans-serif;font-weight:bold;font-size:41.72px" fill="#000">TRAK2<tspan style="font-family:'Liberation Sans',Arial,sans-serif;font-weight:normal">/β</tspan>-actin</text>
<text transform="translate(1509.60 650.60) scale(0.9720 1)" style="font-family:'Liberation Sans',Arial,sans-serif;font-weight:bold;font-size:37.09px" fill="#000">WT</text>
<text transform="translate(1618.93 650.53) scale(0.9641 1)" style="font-family:'Liberation Sans',Arial,sans-serif;font-weight:bold;font-size:36.89px" fill="#000">SMA</text>
<text transform="translate(1753.60 650.60) scale(0.9720 1)" style="font-family:'Liberation Sans',Arial,sans-serif;font-weight:bold;font-size:37.09px" fill="#000">WT</text>
<text transform="translate(1862.43 650.53) scale(0.9704 1)" style="font-family:'Liberation Sans',Arial,sans-serif;font-weight:bold;font-size:36.89px" fill="#000">SMA</text>
<path d="M138.55 1094.40 V1017.25 H218.65 V1094.40" fill="none" stroke="#000" stroke-width="4.50" stroke-linejoin="miter"/>
<path d="M260.60 1094.40 V1025.60 H341.80 V1094.40" fill="none" stroke="#6c6c6c" stroke-width="3.60" stroke-linejoin="miter"/>
<path d="M382.55 1094.40 V989.55 H464.15 V1094.40" fill="none" stroke="#000" stroke-width="4.50" stroke-linejoin="miter"/>
<path d="M505.10 1094.40 V1020.50 H586.70 V1094.40" fill="none" stroke="#6c6c6c" stroke-width="3.60" stroke-linejoin="miter"/>
<ellipse cx="178.70" cy="916.70" rx="6.90" ry="6.30" fill="#fff" stroke="#000" stroke-width="4.60"/>
<ellipse cx="178.70" cy="975.40" rx="6.90" ry="6.30" fill="#fff" stroke="#000" stroke-width="4.60"/>
<ellipse cx="178.70" cy="993.00" rx="6.90" ry="6.30" fill="#fff" stroke="#000" stroke-width="4.60"/>
<ellipse cx="178.70" cy="1013.90" rx="6.90" ry="6.30" fill="#fff" stroke="#000" stroke-width="4.60"/>
<ellipse cx="168.20" cy="1027.10" rx="6.90" ry="6.30" fill="#fff" stroke="#000" stroke-width="4.60"/>
<ellipse cx="189.00" cy="1035.90" rx="6.90" ry="6.30" fill="#fff" stroke="#000" stroke-width="4.60"/>
<ellipse cx="149.50" cy="1047.30" rx="6.90" ry="6.30" fill="#fff" stroke="#000" stroke-width="4.60"/>
<ellipse cx="208.20" cy="1042.50" rx="6.90" ry="6.30" fill="#fff" stroke="#000" stroke-width="4.60"/>
<ellipse cx="168.20" cy="1059.00" rx="6.90" ry="6.30" fill="#fff" stroke="#000" stroke-width="4.60"/>
<ellipse cx="189.00" cy="1055.70" rx="6.90" ry="6.30" fill="#fff" stroke="#000" stroke-width="4.60"/>
<polygon points="290.90,902.50 310.10,902.50 300.50,885.70" fill="#6c6c6c" stroke="#5a5a5a" stroke-width="0.6" stroke-linejoin="round"/>
<ellipse cx="300.50" cy="896.90" rx="2.1" ry="1.9" fill="#fff"/>
<polygon points="281.70,986.00 300.90,986.00 291.30,969.20" fill="#6c6c6c" stroke="#5a5a5a" stroke-width="0.6" stroke-linejoin="round"/>
<ellipse cx="291.30" cy="980.40" rx="2.1" ry="1.9" fill="#fff"/>
<polygon points="301.50,998.60 320.70,998.60 311.10,981.80" fill="#6c6c6c" stroke="#5a5a5a" stroke-width="0.6" stroke-linejoin="round"/>
<ellipse cx="311.10" cy="993.00" rx="2.1" ry="1.9" fill="#fff"/>
<polygon points="271.80,1033.70 291.00,1033.70 281.40,1016.90" fill="#6c6c6c" stroke="#5a5a5a" stroke-width="0.6" stroke-linejoin="round"/>
<ellipse cx="281.40" cy="1028.10" rx="2.1" ry="1.9" fill="#fff"/>
<polygon points="311.40,1036.60 330.60,1036.60 321.00,1019.80" fill="#6c6c6c" stroke="#5a5a5a" stroke-width="0.6" stroke-linejoin="round"/>
<ellipse cx="321.00" cy="1031.00" rx="2.1" ry="1.9" fill="#fff"/>
<polygon points="261.90,1078.40 281.10,1078.40 271.50,1061.60" fill="#6c6c6c" stroke="#5a5a5a" stroke-width="0.6" stroke-linejoin="round"/>
<ellipse cx="271.50" cy="1072.80" rx="2.1" ry="1.9" fill="#fff"/>
<polygon points="281.70,1080.60 300.90,1080.60 291.30,1063.80" fill="#6c6c6c" stroke="#5a5a5a" stroke-width="0.6" stroke-linejoin="round"/>
<ellipse cx="291.30" cy="1075.00" rx="2.1" ry="1.9" fill="#fff"/>
<polygon points="301.50,1079.50 320.70,1079.50 311.10,1062.70" fill="#6c6c6c" stroke="#5a5a5a" stroke-width="0.6" stroke-linejoin="round"/>
<ellipse cx="311.10" cy="1073.90" rx="2.1" ry="1.9" fill="#fff"/>
<polygon points="320.20,1076.20 339.40,1076.20 329.80,1059.40" fill="#6c6c6c" stroke="#5a5a5a" stroke-width="0.6" stroke-linejoin="round"/>
<ellipse cx="329.80" cy="1070.60" rx="2.1" ry="1.9" fill="#fff"/>
<polygon points="290.90,1037.70 310.10,1037.70 300.50,1020.90" fill="#6c6c6c" stroke="#5a5a5a" stroke-width="0.6" stroke-linejoin="round"/>
<polygon points="290.90,1060.80 310.10,1060.80 300.50,1044.00" fill="#6c6c6c" stroke="#5a5a5a" stroke-width="0.6" stroke-linejoin="round"/>
<ellipse cx="423.30" cy="960.90" rx="7.4" ry="6.85" fill="#000"/>
<ellipse cx="403.50" cy="980.70" rx="7.4" ry="6.85" fill="#000"/>
<ellipse cx="443.10" cy="979.90" rx="7.4" ry="6.85" fill="#000"/>
<ellipse cx="423.30" cy="989.40" rx="7.4" ry="6.85" fill="#000"/>
<ellipse cx="433.20" cy="1002.80" rx="7.4" ry="6.85" fill="#000"/>
<ellipse cx="413.50" cy="1019.50" rx="7.4" ry="6.85" fill="#000"/>
<polygon points="529.00,1007.80 542.60,1007.80 535.80,994.80" fill="#6c6c6c" stroke="#5a5a5a" stroke-width="0.6" stroke-linejoin="round"/>
<polygon points="549.10,1015.70 562.70,1015.70 555.90,1002.70" fill="#6c6c6c" stroke="#5a5a5a" stroke-width="0.6" stroke-linejoin="round"/>
<polygon points="509.20,1035.50 522.80,1035.50 516.00,1022.50" fill="#6c6c6c" stroke="#5a5a5a" stroke-width="0.6" stroke-linejoin="round"/>
<polygon points="529.00,1037.80 542.60,1037.80 535.80,1024.80" fill="#6c6c6c" stroke="#5a5a5a" stroke-width="0.6" stroke-linejoin="round"/>
<polygon points="549.10,1035.50 562.70,1035.50 555.90,1022.50" fill="#6c6c6c" stroke="#5a5a5a" stroke-width="0.6" stroke-linejoin="round"/>
<polygon points="568.10,1031.50 581.70,1031.50 574.90,1018.50" fill="#6c6c6c" stroke="#5a5a5a" stroke-width="0.6" stroke-linejoin="round"/>
<line x1="178.70" y1="972.10" x2="178.70" y2="1060.50" stroke="#000" stroke-width="3.00" stroke-linecap="butt"/>
<line x1="158.70" y1="972.10" x2="198.70" y2="972.10" stroke="#000" stroke-width="3.00" stroke-linecap="butt"/>
<line x1="158.70" y1="1060.50" x2="198.70" y2="1060.50" stroke="#000" stroke-width="3.00" stroke-linecap="butt"/>
<line x1="300.50" y1="971.00" x2="300.50" y2="1079.90" stroke="#6c6c6c" stroke-width="3.00" stroke-linecap="butt"/>
<line x1="281.20" y1="971.00" x2="319.80" y2="971.00" stroke="#6c6c6c" stroke-width="3.00" stroke-linecap="butt"/>
<line x1="281.20" y1="1079.90" x2="319.80" y2="1079.90" stroke="#6c6c6c" stroke-width="3.00" stroke-linecap="butt"/>
<line x1="423.30" y1="968.80" x2="423.30" y2="1009.20" stroke="#000" stroke-width="3.00" stroke-linecap="butt"/>
<line x1="403.30" y1="968.80" x2="443.30" y2="968.80" stroke="#000" stroke-width="3.00" stroke-linecap="butt"/>
<line x1="403.30" y1="1009.20" x2="443.30" y2="1009.20" stroke="#000" stroke-width="3.00" stroke-linecap="butt"/>
<line x1="545.60" y1="1008.10" x2="545.60" y2="1032.10" stroke="#6c6c6c" stroke-width="3.00" stroke-linecap="butt"/>
<line x1="525.60" y1="1008.10" x2="565.60" y2="1008.10" stroke="#6c6c6c" stroke-width="3.00" stroke-linecap="butt"/>
<line x1="525.60" y1="1032.10" x2="565.60" y2="1032.10" stroke="#6c6c6c" stroke-width="3.00" stroke-linecap="butt"/>
<line x1="117.50" y1="790.41" x2="117.50" y2="1095.60" stroke="#000" stroke-width="3.00" stroke-linecap="butt"/>
<line x1="107.60" y1="1094.40" x2="608.00" y2="1094.40" stroke="#000" stroke-width="3.30" stroke-linecap="butt"/>
<line x1="107.50" y1="1094.40" x2="117.50" y2="1094.40" stroke="#000" stroke-width="3.00" stroke-linecap="butt"/>
<text transform="translate(71.22 1099.72) scale(1.0245 1)" style="font-family:'Liberation Sans',Arial,sans-serif;font-weight:normal;font-size:22.76px" fill="#000" stroke="#000" stroke-width="0.9">0.0</text>
<line x1="107.50" y1="993.47" x2="117.50" y2="993.47" stroke="#000" stroke-width="3.00" stroke-linecap="butt"/>
<text transform="translate(70.35 998.79) scale(1.0526 1)" style="font-family:'Liberation Sans',Arial,sans-serif;font-weight:normal;font-size:22.76px" fill="#000" stroke="#000" stroke-width="0.9">1.0</text>
<line x1="107.50" y1="892.54" x2="117.50" y2="892.54" stroke="#000" stroke-width="3.00" stroke-linecap="butt"/>
<text transform="translate(70.98 897.86) scale(1.0324 1)" style="font-family:'Liberation Sans',Arial,sans-serif;font-weight:normal;font-size:22.76px" fill="#000" stroke="#000" stroke-width="0.9">2.0</text>
<line x1="107.50" y1="791.61" x2="117.50" y2="791.61" stroke="#000" stroke-width="3.00" stroke-linecap="butt"/>
<text transform="translate(71.28 796.93) scale(1.0226 1)" style="font-family:'Liberation Sans',Arial,sans-serif;font-weight:normal;font-size:22.76px" fill="#000" stroke="#000" stroke-width="0.9">3.0</text>
<text transform="translate(53.80 1051.23) rotate(-90) scale(0.9718 1)" style="font-family:'Liberation Sans',Arial,sans-serif;font-weight:bold;font-size:41.57px" fill="#000">Rhot1/Gusb</text>
<text transform="translate(151.60 1131.40) scale(0.9875 1)" style="font-family:'Liberation Sans',Arial,sans-serif;font-weight:bold;font-size:36.51px" fill="#000">WT</text>
<text transform="translate(258.83 1131.34) scale(0.9855 1)" style="font-family:'Liberation Sans',Arial,sans-serif;font-weight:bold;font-size:36.33px" fill="#000">SMA</text>
<text transform="translate(393.60 1131.40) scale(0.9875 1)" style="font-family:'Liberation Sans',Arial,sans-serif;font-weight:bold;font-size:36.51px" fill="#000">WT</text>
<text transform="translate(504.23 1131.34) scale(0.9816 1)" style="font-family:'Liberation Sans',Arial,sans-serif;font-weight:bold;font-size:36.33px" fill="#000">SMA</text>
<path d="M832.65 1094.70 V999.15 H913.35 V1094.70" fill="none" stroke="#000" stroke-width="4.50" stroke-linejoin="miter"/>
<path d="M953.90 1094.70 V1022.90 H1036.30 V1094.70" fill="none" stroke="#6c6c6c" stroke-width="3.60" stroke-linejoin="miter"/>
<path d="M1077.05 1094.70 V967.25 H1158.45 V1094.70" fill="none" stroke="#000" stroke-width="4.50" stroke-linejoin="miter"/>
<path d="M1198.90 1094.70 V971.10 H1280.80 V1094.70" fill="none" stroke="#6c6c6c" stroke-width="3.60" stroke-linejoin="miter"/>
<ellipse cx="872.70" cy="965.50" rx="6.90" ry="6.30" fill="#fff" stroke="#000" stroke-width="4.60"/>
<ellipse cx="853.10" cy="998.60" rx="6.90" ry="6.30" fill="#fff" stroke="#000" stroke-width="4.60"/>
<ellipse cx="872.70" cy="1016.10" rx="6.90" ry="6.30" fill="#fff" stroke="#000" stroke-width="4.60"/>
<ellipse cx="892.70" cy="1013.60" rx="6.90" ry="6.30" fill="#fff" stroke="#000" stroke-width="4.60"/>
<polygon points="965.00,1018.70 984.20,1018.70 974.60,1001.90" fill="#6c6c6c" stroke="#5a5a5a" stroke-width="0.6" stroke-linejoin="round"/>
<ellipse cx="974.60" cy="1013.10" rx="2.1" ry="1.9" fill="#fff"/>
<polygon points="975.90,1023.70 995.10,1023.70 985.50,1006.90" fill="#6c6c6c" stroke="#5a5a5a" stroke-width="0.6" stroke-linejoin="round"/>
<ellipse cx="985.50" cy="1018.10" rx="2.1" ry="1.9" fill="#fff"/>
<polygon points="995.10,1040.40 1014.30,1040.40 1004.70,1023.60" fill="#6c6c6c" stroke="#5a5a5a" stroke-width="0.6" stroke-linejoin="round"/>
<ellipse cx="1004.70" cy="1034.80" rx="2.1" ry="1.9" fill="#fff"/>
<polygon points="985.60,1070.50 1004.80,1070.50 995.20,1053.70" fill="#6c6c6c" stroke="#5a5a5a" stroke-width="0.6" stroke-linejoin="round"/>
<ellipse cx="995.20" cy="1064.90" rx="2.1" ry="1.9" fill="#fff"/>
<polygon points="995.10,1003.60 1014.30,1003.60 1004.70,986.80" fill="#6c6c6c" stroke="#5a5a5a" stroke-width="0.6" stroke-linejoin="round"/>
<ellipse cx="1127.40" cy="934.70" rx="7.4" ry="6.85" fill="#000"/>
<ellipse cx="1107.70" cy="947.10" rx="7.4" ry="6.85" fill="#000"/>
<ellipse cx="1117.30" cy="968.40" rx="7.4" ry="6.85" fill="#000"/>
<ellipse cx="1097.90" cy="974.80" rx="7.4" ry="6.85" fill="#000"/>
<ellipse cx="1137.20" cy="981.30" rx="7.4" ry="6.85" fill="#000"/>
<ellipse cx="1117.30" cy="993.30" rx="7.4" ry="6.85" fill="#000"/>
<polygon points="1233.30,914.80 1246.90,914.80 1240.10,901.80" fill="#6c6c6c" stroke="#5a5a5a" stroke-width="0.6" stroke-linejoin="round"/>
<polygon points="1201.00,983.20 1214.60,983.20 1207.80,970.20" fill="#6c6c6c" stroke="#5a5a5a" stroke-width="0.6" stroke-linejoin="round"/>
<polygon points="1216.70,990.60 1230.30,990.60 1223.50,977.60" fill="#6c6c6c" stroke="#5a5a5a" stroke-width="0.6" stroke-linejoin="round"/>
<polygon points="1233.30,999.80 1246.90,999.80 1240.10,986.80" fill="#6c6c6c" stroke="#5a5a5a" stroke-width="0.6" stroke-linejoin="round"/>
<polygon points="1249.00,992.40 1262.60,992.40 1255.80,979.40" fill="#6c6c6c" stroke="#5a5a5a" stroke-width="0.6" stroke-linejoin="round"/>
<polygon points="1265.30,985.90 1278.90,985.90 1272.10,972.90" fill="#6c6c6c" stroke="#5a5a5a" stroke-width="0.6" stroke-linejoin="round"/>
<line x1="872.70" y1="975.20" x2="872.70" y2="1021.10" stroke="#000" stroke-width="3.00" stroke-linecap="butt"/>
<line x1="852.40" y1="975.20" x2="893.00" y2="975.20" stroke="#000" stroke-width="3.00" stroke-linecap="butt"/>
<line x1="852.40" y1="1021.10" x2="893.00" y2="1021.10" stroke="#000" stroke-width="3.00" stroke-linecap="butt"/>
<line x1="995.20" y1="997.20" x2="995.20" y2="1047.40" stroke="#6c6c6c" stroke-width="3.00" stroke-linecap="butt"/>
<line x1="975.60" y1="997.20" x2="1014.80" y2="997.20" stroke="#6c6c6c" stroke-width="3.00" stroke-linecap="butt"/>
<line x1="975.60" y1="1047.40" x2="1014.80" y2="1047.40" stroke="#6c6c6c" stroke-width="3.00" stroke-linecap="butt"/>
<line x1="1117.30" y1="945.30" x2="1117.30" y2="989.10" stroke="#000" stroke-width="3.00" stroke-linecap="butt"/>
<line x1="1097.40" y1="945.30" x2="1137.20" y2="945.30" stroke="#000" stroke-width="3.00" stroke-linecap="butt"/>
<line x1="1097.40" y1="989.10" x2="1137.20" y2="989.10" stroke="#000" stroke-width="3.00" stroke-linecap="butt"/>
<line x1="1240.10" y1="938.80" x2="1240.10" y2="1001.60" stroke="#6c6c6c" stroke-width="3.00" stroke-linecap="butt"/>
<line x1="1220.10" y1="938.80" x2="1260.10" y2="938.80" stroke="#6c6c6c" stroke-width="3.00" stroke-linecap="butt"/>
<line x1="1220.10" y1="1001.60" x2="1260.10" y2="1001.60" stroke="#6c6c6c" stroke-width="3.00" stroke-linecap="butt"/>
<line x1="811.70" y1="789.90" x2="811.70" y2="1095.90" stroke="#000" stroke-width="3.10" stroke-linecap="butt"/>
<line x1="802.60" y1="1094.70" x2="1302.20" y2="1094.70" stroke="#000" stroke-width="3.10" stroke-linecap="butt"/>
<line x1="801.70" y1="1094.70" x2="811.70" y2="1094.70" stroke="#000" stroke-width="3.10" stroke-linecap="butt"/>
<text transform="translate(765.42 1100.02) scale(1.0245 1)" style="font-family:'Liberation Sans',Arial,sans-serif;font-weight:normal;font-size:22.76px" fill="#000" stroke="#000" stroke-width="0.9">0.0</text>
<line x1="801.70" y1="993.50" x2="811.70" y2="993.50" stroke="#000" stroke-width="3.10" stroke-linecap="butt"/>
<text transform="translate(764.55 998.82) scale(1.0526 1)" style="font-family:'Liberation Sans',Arial,sans-serif;font-weight:normal;font-size:22.76px" fill="#000" stroke="#000" stroke-width="0.9">1.0</text>
<line x1="801.70" y1="892.30" x2="811.70" y2="892.30" stroke="#000" stroke-width="3.10" stroke-linecap="butt"/>
<text transform="translate(765.18 897.62) scale(1.0324 1)" style="font-family:'Liberation Sans',Arial,sans-serif;font-weight:normal;font-size:22.76px" fill="#000" stroke="#000" stroke-width="0.9">2.0</text>
<line x1="801.70" y1="791.10" x2="811.70" y2="791.10" stroke="#000" stroke-width="3.10" stroke-linecap="butt"/>
<text transform="translate(765.48 796.42) scale(1.0226 1)" style="font-family:'Liberation Sans',Arial,sans-serif;font-weight:normal;font-size:22.76px" fill="#000" stroke="#000" stroke-width="0.9">3.0</text>
<text transform="translate(748.00 1045.20) rotate(-90) scale(0.9656 1)" style="font-family:'Liberation Sans',Arial,sans-serif;font-weight:bold;font-size:41.42px" fill="#000">Trak1/Gusb</text>
<text transform="translate(849.10 1131.40) scale(0.9875 1)" style="font-family:'Liberation Sans',Arial,sans-serif;font-weight:bold;font-size:36.51px" fill="#000">WT</text>
<text transform="translate(953.13 1131.34) scale(0.9816 1)" style="font-family:'Liberation Sans',Arial,sans-serif;font-weight:bold;font-size:36.33px" fill="#000">SMA</text>
<text transform="translate(1096.10 1131.40) scale(0.9875 1)" style="font-family:'Liberation Sans',Arial,sans-serif;font-weight:bold;font-size:36.51px" fill="#000">WT</text>
<text transform="translate(1195.23 1131.34) scale(0.9791 1)" style="font-family:'Liberation Sans',Arial,sans-serif;font-weight:bold;font-size:36.33px" fill="#000">SMA</text>
<path d="M1496.05 1094.70 V1020.05 H1577.25 V1094.70" fill="none" stroke="#000" stroke-width="4.50" stroke-linejoin="miter"/>
<path d="M1617.90 1094.70 V1033.10 H1700.50 V1094.70" fill="none" stroke="#6c6c6c" stroke-width="3.60" stroke-linejoin="miter"/>
<path d="M1741.05 1094.70 V973.85 H1822.05 V1094.70" fill="none" stroke="#000" stroke-width="4.50" stroke-linejoin="miter"/>
<path d="M1863.00 1094.70 V1002.80 H1944.40 V1094.70" fill="none" stroke="#6c6c6c" stroke-width="3.60" stroke-linejoin="miter"/>
<ellipse cx="1536.60" cy="1004.50" rx="6.90" ry="6.30" fill="#fff" stroke="#000" stroke-width="4.60"/>
<ellipse cx="1516.90" cy="1020.50" rx="6.90" ry="6.30" fill="#fff" stroke="#000" stroke-width="4.60"/>
<ellipse cx="1556.30" cy="1024.20" rx="6.90" ry="6.30" fill="#fff" stroke="#000" stroke-width="4.60"/>
<ellipse cx="1536.60" cy="1030.30" rx="6.90" ry="6.30" fill="#fff" stroke="#000" stroke-width="4.60"/>
<polygon points="1659.40,1032.00 1678.60,1032.00 1669.00,1015.20" fill="#6c6c6c" stroke="#5a5a5a" stroke-width="0.6" stroke-linejoin="round"/>
<ellipse cx="1669.00" cy="1026.40" rx="2.1" ry="1.9" fill="#fff"/>
<polygon points="1629.90,1047.40 1649.10,1047.40 1639.50,1030.60" fill="#6c6c6c" stroke="#5a5a5a" stroke-width="0.6" stroke-linejoin="round"/>
<ellipse cx="1639.50" cy="1041.80" rx="2.1" ry="1.9" fill="#fff"/>
<polygon points="1669.30,1046.70 1688.50,1046.70 1678.90,1029.90" fill="#6c6c6c" stroke="#5a5a5a" stroke-width="0.6" stroke-linejoin="round"/>
<ellipse cx="1678.90" cy="1041.10" rx="2.1" ry="1.9" fill="#fff"/>
<polygon points="1649.60,1059.70 1668.80,1059.70 1659.20,1042.90" fill="#6c6c6c" stroke="#5a5a5a" stroke-width="0.6" stroke-linejoin="round"/>
<ellipse cx="1659.20" cy="1054.10" rx="2.1" ry="1.9" fill="#fff"/>
<polygon points="1639.40,1025.80 1658.60,1025.80 1649.00,1009.00" fill="#6c6c6c" stroke="#5a5a5a" stroke-width="0.6" stroke-linejoin="round"/>
<polygon points="1649.60,1046.10 1668.80,1046.10 1659.20,1029.30" fill="#6c6c6c" stroke="#5a5a5a" stroke-width="0.6" stroke-linejoin="round"/>
<ellipse cx="1781.50" cy="919.90" rx="7.4" ry="6.85" fill="#000"/>
<ellipse cx="1781.50" cy="942.50" rx="7.4" ry="6.85" fill="#000"/>
<ellipse cx="1781.50" cy="972.00" rx="7.4" ry="6.85" fill="#000"/>
<ellipse cx="1762.10" cy="994.50" rx="7.4" ry="6.85" fill="#000"/>
<ellipse cx="1801.20" cy="1002.50" rx="7.4" ry="6.85" fill="#000"/>
<ellipse cx="1781.50" cy="1006.20" rx="7.4" ry="6.85" fill="#000"/>
<polygon points="1896.90,987.70 1910.50,987.70 1903.70,974.70" fill="#6c6c6c" stroke="#5a5a5a" stroke-width="0.6" stroke-linejoin="round"/>
<polygon points="1886.80,998.80 1900.40,998.80 1893.60,985.80" fill="#6c6c6c" stroke="#5a5a5a" stroke-width="0.6" stroke-linejoin="round"/>
<polygon points="1906.70,1006.20 1920.30,1006.20 1913.50,993.20" fill="#6c6c6c" stroke="#5a5a5a" stroke-width="0.6" stroke-linejoin="round"/>
<polygon points="1877.20,1014.50 1890.80,1014.50 1884.00,1001.50" fill="#6c6c6c" stroke="#5a5a5a" stroke-width="0.6" stroke-linejoin="round"/>
<polygon points="1896.90,1026.50 1910.50,1026.50 1903.70,1013.50" fill="#6c6c6c" stroke="#5a5a5a" stroke-width="0.6" stroke-linejoin="round"/>
<polygon points="1916.70,1025.60 1930.30,1025.60 1923.50,1012.60" fill="#6c6c6c" stroke="#5a5a5a" stroke-width="0.6" stroke-linejoin="round"/>
<line x1="1536.60" y1="1010.00" x2="1536.60" y2="1030.30" stroke="#000" stroke-width="3.00" stroke-linecap="butt"/>
<line x1="1516.40" y1="1010.00" x2="1556.80" y2="1010.00" stroke="#000" stroke-width="3.00" stroke-linecap="butt"/>
<line x1="1516.40" y1="1030.30" x2="1556.80" y2="1030.30" stroke="#000" stroke-width="3.00" stroke-linecap="butt"/>
<line x1="1659.20" y1="1021.50" x2="1659.20" y2="1043.90" stroke="#6c6c6c" stroke-width="3.00" stroke-linecap="butt"/>
<line x1="1639.20" y1="1021.50" x2="1679.20" y2="1021.50" stroke="#6c6c6c" stroke-width="3.00" stroke-linecap="butt"/>
<line x1="1639.20" y1="1043.90" x2="1679.20" y2="1043.90" stroke="#6c6c6c" stroke-width="3.00" stroke-linecap="butt"/>
<line x1="1781.50" y1="938.20" x2="1781.50" y2="1008.00" stroke="#000" stroke-width="3.00" stroke-linecap="butt"/>
<line x1="1761.60" y1="938.20" x2="1801.40" y2="938.20" stroke="#000" stroke-width="3.00" stroke-linecap="butt"/>
<line x1="1761.60" y1="1008.00" x2="1801.40" y2="1008.00" stroke="#000" stroke-width="3.00" stroke-linecap="butt"/>
<line x1="1903.70" y1="986.80" x2="1903.70" y2="1017.20" stroke="#6c6c6c" stroke-width="3.00" stroke-linecap="butt"/>
<line x1="1883.60" y1="986.80" x2="1923.80" y2="986.80" stroke="#6c6c6c" stroke-width="3.00" stroke-linecap="butt"/>
<line x1="1883.60" y1="1017.20" x2="1923.80" y2="1017.20" stroke="#6c6c6c" stroke-width="3.00" stroke-linecap="butt"/>
<line x1="1475.50" y1="790.30" x2="1475.50" y2="1095.90" stroke="#000" stroke-width="3.10" stroke-linecap="butt"/>
<line x1="1465.70" y1="1094.70" x2="1966.00" y2="1094.70" stroke="#000" stroke-width="3.10" stroke-linecap="butt"/>
<line x1="1465.50" y1="1094.70" x2="1475.50" y2="1094.70" stroke="#000" stroke-width="3.10" stroke-linecap="butt"/>
<text transform="translate(1429.22 1100.02) scale(1.0245 1)" style="font-family:'Liberation Sans',Arial,sans-serif;font-weight:normal;font-size:22.76px" fill="#000" stroke="#000" stroke-width="0.9">0.0</text>
<line x1="1465.50" y1="1018.90" x2="1475.50" y2="1018.90" stroke="#000" stroke-width="3.10" stroke-linecap="butt"/>
<text transform="translate(1429.22 1024.22) scale(1.0265 1)" style="font-family:'Liberation Sans',Arial,sans-serif;font-weight:normal;font-size:22.76px" fill="#000" stroke="#000" stroke-width="0.9">0.5</text>
<line x1="1465.50" y1="943.10" x2="1475.50" y2="943.10" stroke="#000" stroke-width="3.10" stroke-linecap="butt"/>
<text transform="translate(1428.35 948.42) scale(1.0526 1)" style="font-family:'Liberation Sans',Arial,sans-serif;font-weight:normal;font-size:22.76px" fill="#000" stroke="#000" stroke-width="0.9">1.0</text>
<line x1="1465.50" y1="867.30" x2="1475.50" y2="867.30" stroke="#000" stroke-width="3.10" stroke-linecap="butt"/>
<text transform="translate(1428.35 872.62) scale(1.0398 1)" style="font-family:'Liberation Sans',Arial,sans-serif;font-weight:normal;font-size:23.08px" fill="#000" stroke="#000" stroke-width="0.9">1.5</text>
<line x1="1465.50" y1="791.50" x2="1475.50" y2="791.50" stroke="#000" stroke-width="3.10" stroke-linecap="butt"/>
<text transform="translate(1428.98 796.82) scale(1.0324 1)" style="font-family:'Liberation Sans',Arial,sans-serif;font-weight:normal;font-size:22.76px" fill="#000" stroke="#000" stroke-width="0.9">2.0</text>
<text transform="translate(1408.40 1045.20) rotate(-90) scale(0.9656 1)" style="font-family:'Liberation Sans',Arial,sans-serif;font-weight:bold;font-size:41.42px" fill="#000">Trak2/Gusb</text>
<text transform="translate(1509.60 1131.40) scale(0.9875 1)" style="font-family:'Liberation Sans',Arial,sans-serif;font-weight:bold;font-size:36.51px" fill="#000">WT</text>
<text transform="translate(1618.93 1131.34) scale(0.9791 1)" style="font-family:'Liberation Sans',Arial,sans-serif;font-weight:bold;font-size:36.33px" fill="#000">SMA</text>
<text transform="translate(1753.60 1131.40) scale(0.9875 1)" style="font-family:'Liberation Sans',Arial,sans-serif;font-weight:bold;font-size:36.51px" fill="#000">WT</text>
<text transform="translate(1867.43 1131.34) scale(0.9791 1)" style="font-family:'Liberation Sans',Arial,sans-serif;font-weight:bold;font-size:36.33px" fill="#000">SMA</text>
<defs>
<filter id="g1" x="-50%" y="-50%" width="200%" height="200%"><feGaussianBlur stdDeviation="0.8"/></filter>
<filter id="g2" x="-50%" y="-50%" width="200%" height="200%"><feGaussianBlur stdDeviation="1.6"/></filter>
<filter id="g3" x="-50%" y="-50%" width="200%" height="200%"><feGaussianBlur stdDeviation="2.4"/></filter>
<filter id="g4" x="-50%" y="-50%" width="200%" height="200%"><feGaussianBlur stdDeviation="3.2"/></filter>
<filter id="g5" x="-50%" y="-50%" width="200%" height="200%"><feGaussianBlur stdDeviation="4.0"/></filter>
<filter id="g6" x="-50%" y="-50%" width="200%" height="200%"><feGaussianBlur stdDeviation="4.8"/></filter>
<filter id="g7" x="-50%" y="-50%" width="200%" height="200%"><feGaussianBlur stdDeviation="5.6"/></filter>
<filter id="g8" x="-50%" y="-50%" width="200%" height="200%"><feGaussianBlur stdDeviation="6.4"/></filter>
<filter id="nzd" x="0" y="0" width="100%" height="100%"><feTurbulence type="fractalNoise" baseFrequency="0.16" numOctaves="2" seed="7"/><feColorMatrix type="matrix" values="0 0 0 0 0  0 0 0 0 0  0 0 0 0 0  1.8 0 0 0 -0.8"/></filter>
<filter id="nzl" x="0" y="0" width="100%" height="100%"><feTurbulence type="fractalNoise" baseFrequency="0.16" numOctaves="2" seed="23"/><feColorMatrix type="matrix" values="0 0 0 0 1  0 0 0 0 1  0 0 0 0 1  1.8 0 0 0 -0.8"/></filter>
</defs>
<clipPath id="bc1"><rect x="141.10" y="123.00" width="191.40" height="62.90"/></clipPath>
<g clip-path="url(#bc1)">
<rect x="139.60" y="121.50" width="194.40" height="65.90" fill="#dedede"/>
<rect x="140.00" y="115.50" width="7.00" height="77.90" fill="#e9e9e9" filter="url(#g3)"/>
<rect x="232.00" y="115.50" width="18.00" height="77.90" fill="#e4e4e4" filter="url(#g4)"/>
<rect x="155.00" y="140.50" width="73.00" height="32.00" rx="12.00" fill="#8a8a8a" filter="url(#g5)"/>
<rect x="158.50" y="149.45" width="67.00" height="17.50" rx="7.00" fill="#151515" filter="url(#g3)"/>
<rect x="251.00" y="141.50" width="67.00" height="31.00" rx="12.00" fill="#8e8e8e" filter="url(#g5)"/>
<rect x="254.50" y="149.95" width="60.50" height="16.50" rx="7.00" fill="#1c1c1c" filter="url(#g3)"/>
<rect x="139.60" y="121.50" width="194.40" height="65.90" filter="url(#nzd)" opacity="0.10"/>
<rect x="139.60" y="121.50" width="194.40" height="65.90" filter="url(#nzl)" opacity="0.10"/>
</g>
<rect x="142.30" y="124.20" width="189.00" height="60.50" fill="none" stroke="#fff" stroke-width="1.6" opacity="0.9"/>
<rect x="140.45" y="122.35" width="192.70" height="64.20" rx="1.2" fill="none" stroke="#000" stroke-width="2.50"/>
<clipPath id="bc2"><rect x="141.50" y="200.10" width="191.00" height="43.10"/></clipPath>
<g clip-path="url(#bc2)">
<rect x="140.00" y="198.60" width="194.00" height="46.10" fill="#d6d6d6"/>
<path d="M148.50 222.53 C148.50 217.00 155.50 216.00 162.50 216.00 L217.50 217.00 C224.50 217.00 231.50 218.00 231.50 223.53 C231.50 230.05 224.50 231.50 217.50 231.50 L162.50 230.50 C155.50 230.50 148.50 229.05 148.50 222.53 Z" fill="#070707" filter="url(#g2)"/>
<path d="M249.00 222.38 C249.00 217.30 256.00 216.30 263.00 216.30 L316.50 215.80 C323.50 215.80 330.50 216.80 330.50 221.88 C330.50 227.95 323.50 229.30 316.50 229.30 L263.00 229.80 C256.00 229.80 249.00 228.45 249.00 222.38 Z" fill="#070707" filter="url(#g2)"/>
</g>
<rect x="142.70" y="201.30" width="188.60" height="40.70" fill="none" stroke="#fff" stroke-width="1.6" opacity="0.9"/>
<rect x="140.85" y="199.45" width="192.30" height="44.40" rx="1.2" fill="none" stroke="#000" stroke-width="2.50"/>
<clipPath id="bc3"><rect x="392.00" y="122.80" width="190.60" height="63.10"/></clipPath>
<g clip-path="url(#bc3)">
<rect x="390.50" y="121.30" width="193.60" height="66.10" fill="#bababa"/>
<rect x="408.00" y="143.50" width="68.00" height="23.00" rx="10.00" fill="#2a2a2a" filter="url(#g3)"/>
<rect x="495.00" y="144.50" width="73.50" height="23.00" rx="10.00" fill="#2a2a2a" filter="url(#g3)"/>
</g>
<rect x="393.20" y="124.00" width="188.20" height="60.70" fill="none" stroke="#fff" stroke-width="1.6" opacity="0.9"/>
<rect x="391.35" y="122.15" width="191.90" height="64.40" rx="1.2" fill="none" stroke="#000" stroke-width="2.50"/>
<clipPath id="bc4"><rect x="392.00" y="200.30" width="190.60" height="42.70"/></clipPath>
<g clip-path="url(#bc4)">
<rect x="390.50" y="198.80" width="193.60" height="45.70" fill="#a6a6a6"/>
<rect x="390" y="199" width="195" height="15" fill="#adadad" filter="url(#g3)"/>
<rect x="392" y="216.5" width="191" height="2.5" fill="#555" filter="url(#g2)"/>
<path d="M396.00 216.50 L481.00 216.50 C482.00 229.55 470.80 231.00 455.50 231.00 L421.50 231.00 C406.20 231.00 395.00 229.55 396.00 216.50 Z" fill="#2e2e2e" filter="url(#g3)"/>
<path d="M489.00 216.50 L579.00 216.50 C580.00 229.55 568.20 231.00 552.00 231.00 L516.00 231.00 C499.80 231.00 488.00 229.55 489.00 216.50 Z" fill="#303030" filter="url(#g3)"/>
</g>
<rect x="393.20" y="201.50" width="188.20" height="40.30" fill="none" stroke="#fff" stroke-width="1.6" opacity="0.9"/>
<rect x="391.35" y="199.65" width="191.90" height="44.00" rx="1.2" fill="none" stroke="#000" stroke-width="2.50"/>
<clipPath id="bc5"><rect x="830.60" y="123.30" width="188.90" height="62.70"/></clipPath>
<g clip-path="url(#bc5)">
<rect x="829.10" y="121.80" width="191.90" height="65.70" fill="#c8c8c8"/>
<rect x="845" y="168" width="70" height="18" fill="#a2a2a2" filter="url(#g4)"/>
<rect x="843.50" y="115.80" width="69.50" height="77.70" fill="#a3a3a3" filter="url(#g3)"/>
<rect x="937.00" y="115.80" width="80.00" height="77.70" fill="#a8a8a8" filter="url(#g3)"/>
<rect x="846.00" y="148.50" width="66.00" height="11.00" rx="5.50" fill="#8c8c8c" filter="url(#g3)"/>
<rect x="938.00" y="147.30" width="76.00" height="11.00" rx="5.50" fill="#8a8a8a" filter="url(#g3)"/>
<rect x="829.10" y="121.80" width="191.90" height="65.70" filter="url(#nzd)" opacity="0.14"/>
<rect x="829.10" y="121.80" width="191.90" height="65.70" filter="url(#nzl)" opacity="0.14"/>
</g>
<rect x="831.80" y="124.50" width="186.50" height="60.30" fill="none" stroke="#fff" stroke-width="1.6" opacity="0.9"/>
<rect x="829.95" y="122.65" width="190.20" height="64.00" rx="1.2" fill="none" stroke="#000" stroke-width="2.50"/>
<clipPath id="bc6"><rect x="830.60" y="200.30" width="188.90" height="42.60"/></clipPath>
<g clip-path="url(#bc6)">
<rect x="829.10" y="198.80" width="191.90" height="45.60" fill="#d8d8d8"/>
<path d="M835.50 221.85 C835.50 217.00 842.50 216.00 849.50 216.00 L899.50 216.00 C906.50 216.00 913.50 217.00 913.50 221.85 C913.50 227.70 906.50 229.00 899.50 229.00 L849.50 229.00 C842.50 229.00 835.50 227.70 835.50 221.85 Z" fill="#0c0c0c" filter="url(#g1)"/>
<path d="M928.50 222.12 C928.50 217.50 935.50 216.50 942.50 216.50 L997.50 216.50 C1004.50 216.50 1011.50 217.50 1011.50 222.12 C1011.50 227.75 1004.50 229.00 997.50 229.00 L942.50 229.00 C935.50 229.00 928.50 227.75 928.50 222.12 Z" fill="#0e0e0e" filter="url(#g1)"/>
</g>
<rect x="831.80" y="201.50" width="186.50" height="40.20" fill="none" stroke="#fff" stroke-width="1.6" opacity="0.9"/>
<rect x="829.95" y="199.65" width="190.20" height="43.90" rx="1.2" fill="none" stroke="#000" stroke-width="2.50"/>
<clipPath id="bc7"><rect x="1071.00" y="123.30" width="189.50" height="62.70"/></clipPath>
<g clip-path="url(#bc7)">
<rect x="1069.50" y="121.80" width="192.50" height="65.70" fill="#cbcbcb"/>
<rect x="1072.00" y="115.80" width="76.00" height="77.70" fill="#acacac" filter="url(#g3)"/>
<rect x="1176.00" y="115.80" width="76.00" height="77.70" fill="#b6b6b6" filter="url(#g3)"/>
<rect x="1079.00" y="147.50" width="69.00" height="11.00" rx="5.50" fill="#8e8e8e" filter="url(#g3)"/>
<rect x="1176.00" y="147.75" width="70.00" height="10.50" rx="5.25" fill="#919191" filter="url(#g3)"/>
<rect x="1069.50" y="121.80" width="192.50" height="65.70" filter="url(#nzd)" opacity="0.14"/>
<rect x="1069.50" y="121.80" width="192.50" height="65.70" filter="url(#nzl)" opacity="0.14"/>
</g>
<rect x="1072.20" y="124.50" width="187.10" height="60.30" fill="none" stroke="#fff" stroke-width="1.6" opacity="0.9"/>
<rect x="1070.35" y="122.65" width="190.80" height="64.00" rx="1.2" fill="none" stroke="#000" stroke-width="2.50"/>
<clipPath id="bc8"><rect x="1071.00" y="200.30" width="189.50" height="42.60"/></clipPath>
<g clip-path="url(#bc8)">
<rect x="1069.50" y="198.80" width="192.50" height="45.60" fill="#ebebeb"/>
<path d="M1083.00 222.85 C1083.00 218.00 1090.00 217.00 1097.00 217.00 L1145.50 217.00 C1152.50 217.00 1159.50 218.00 1159.50 222.85 C1159.50 228.70 1152.50 230.00 1145.50 230.00 L1097.00 230.00 C1090.00 230.00 1083.00 228.70 1083.00 222.85 Z" fill="#131313" filter="url(#g1)"/>
<path d="M1181.00 222.90 C1181.00 218.50 1188.00 217.50 1195.00 217.50 L1239.00 217.50 C1246.00 217.50 1253.00 218.50 1253.00 222.90 C1253.00 228.30 1246.00 229.50 1239.00 229.50 L1195.00 229.50 C1188.00 229.50 1181.00 228.30 1181.00 222.90 Z" fill="#1b1b1b" filter="url(#g1)"/>
</g>
<rect x="1072.20" y="201.50" width="187.10" height="40.20" fill="none" stroke="#fff" stroke-width="1.6" opacity="0.9"/>
<rect x="1070.35" y="199.65" width="190.80" height="43.90" rx="1.2" fill="none" stroke="#000" stroke-width="2.50"/>
<clipPath id="bc9"><rect x="1501.20" y="123.00" width="189.60" height="62.60"/></clipPath>
<g clip-path="url(#bc9)">
<rect x="1499.70" y="121.50" width="192.60" height="65.60" fill="#f0f0f0"/>
<rect x="1512.00" y="115.50" width="70.00" height="77.60" fill="#d6d6d6" filter="url(#g3)"/>
<rect x="1609.00" y="115.50" width="66.50" height="77.60" fill="#d7d7d7" filter="url(#g3)"/>
<rect x="1512.00" y="149.00" width="70.00" height="10.00" rx="5.00" fill="#8a8a8a" filter="url(#g2)"/>
<rect x="1609.00" y="149.00" width="66.50" height="10.00" rx="5.00" fill="#858585" filter="url(#g2)"/>
<rect x="1512.00" y="159.00" width="70.00" height="4.00" rx="2.00" fill="#b5b5b5" filter="url(#g2)"/>
<rect x="1609.00" y="159.00" width="66.50" height="4.00" rx="2.00" fill="#b5b5b5" filter="url(#g2)"/>
<rect x="1499.70" y="121.50" width="192.60" height="65.60" filter="url(#nzd)" opacity="0.08"/>
<rect x="1499.70" y="121.50" width="192.60" height="65.60" filter="url(#nzl)" opacity="0.08"/>
</g>
<rect x="1502.40" y="124.20" width="187.20" height="60.20" fill="none" stroke="#fff" stroke-width="1.6" opacity="0.9"/>
<rect x="1500.55" y="122.35" width="190.90" height="63.90" rx="1.2" fill="none" stroke="#000" stroke-width="2.50"/>
<clipPath id="bc10"><rect x="1501.20" y="200.60" width="189.60" height="42.40"/></clipPath>
<g clip-path="url(#bc10)">
<rect x="1499.70" y="199.10" width="192.60" height="45.40" fill="#dadada"/>
<path d="M1512.00 221.45 C1512.00 217.50 1519.00 216.50 1526.00 216.50 L1570.50 216.50 C1577.50 216.50 1584.50 217.50 1584.50 221.45 C1584.50 226.40 1577.50 227.50 1570.50 227.50 L1526.00 227.50 C1519.00 227.50 1512.00 226.40 1512.00 221.45 Z" fill="#3a3a3a" filter="url(#g2)"/>
<path d="M1606.00 221.90 C1606.00 217.50 1613.00 216.50 1620.00 216.50 L1664.00 216.50 C1671.00 216.50 1678.00 217.50 1678.00 221.90 C1678.00 227.30 1671.00 228.50 1664.00 228.50 L1620.00 228.50 C1613.00 228.50 1606.00 227.30 1606.00 221.90 Z" fill="#242424" filter="url(#g2)"/>
<rect x="1499.70" y="199.10" width="192.60" height="45.40" filter="url(#nzd)" opacity="0.08"/>
<rect x="1499.70" y="199.10" width="192.60" height="45.40" filter="url(#nzl)" opacity="0.08"/>
</g>
<rect x="1502.40" y="201.80" width="187.20" height="40.00" fill="none" stroke="#fff" stroke-width="1.6" opacity="0.9"/>
<rect x="1500.55" y="199.95" width="190.90" height="43.70" rx="1.2" fill="none" stroke="#000" stroke-width="2.50"/>
<clipPath id="bc11"><rect x="1743.30" y="121.10" width="190.90" height="61.00"/></clipPath>
<g clip-path="url(#bc11)">
<rect x="1741.80" y="119.60" width="193.90" height="64.00" fill="#efefef"/>
<rect x="1759.50" y="113.60" width="69.00" height="76.00" fill="#dcdcdc" filter="url(#g3)"/>
<rect x="1853.00" y="113.60" width="65.50" height="76.00" fill="#dcdcdc" filter="url(#g3)"/>
<rect x="1760.00" y="146.50" width="68.00" height="9.00" rx="4.50" fill="#8e8e8e" filter="url(#g2)"/>
<rect x="1853.00" y="146.00" width="65.00" height="9.00" rx="4.50" fill="#868686" filter="url(#g2)"/>
<rect x="1741.80" y="119.60" width="193.90" height="64.00" filter="url(#nzd)" opacity="0.08"/>
<rect x="1741.80" y="119.60" width="193.90" height="64.00" filter="url(#nzl)" opacity="0.08"/>
</g>
<rect x="1744.50" y="122.30" width="188.50" height="58.60" fill="none" stroke="#fff" stroke-width="1.6" opacity="0.9"/>
<rect x="1742.65" y="120.45" width="192.20" height="62.30" rx="1.2" fill="none" stroke="#000" stroke-width="2.50"/>
<clipPath id="bc12"><rect x="1743.30" y="200.60" width="190.90" height="42.40"/></clipPath>
<g clip-path="url(#bc12)">
<rect x="1741.80" y="199.10" width="193.90" height="45.40" fill="#e4e4e4"/>
<rect x="1741.8" y="199" width="194" height="18" fill="#cdcdcd" filter="url(#g5)"/>
<path d="M1752.50 222.80 C1752.50 217.50 1759.50 216.50 1766.50 216.50 L1815.00 216.50 C1822.00 216.50 1829.00 217.50 1829.00 222.80 C1829.00 229.10 1822.00 230.50 1815.00 230.50 L1766.50 230.50 C1759.50 230.50 1752.50 229.10 1752.50 222.80 Z" fill="#060606" filter="url(#g2)"/>
<path d="M1846.00 222.45 C1846.00 218.50 1853.00 217.50 1860.00 217.50 L1908.00 217.50 C1915.00 217.50 1922.00 218.50 1922.00 222.45 C1922.00 227.40 1915.00 228.50 1908.00 228.50 L1860.00 228.50 C1853.00 228.50 1846.00 227.40 1846.00 222.45 Z" fill="#1a1a1a" filter="url(#g2)"/>
<rect x="1741.80" y="199.10" width="193.90" height="45.40" filter="url(#nzd)" opacity="0.12"/>
<rect x="1741.80" y="199.10" width="193.90" height="45.40" filter="url(#nzl)" opacity="0.12"/>
</g>
<rect x="1744.50" y="201.80" width="188.50" height="40.00" fill="none" stroke="#fff" stroke-width="1.6" opacity="0.9"/>
<rect x="1742.65" y="199.95" width="192.20" height="43.70" rx="1.2" fill="none" stroke="#000" stroke-width="2.50"/>
</svg>
</body></html>
